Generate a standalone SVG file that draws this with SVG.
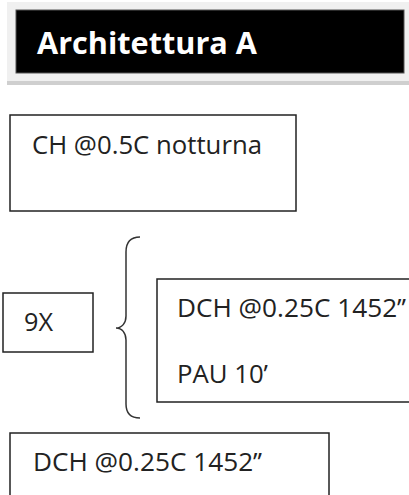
<svg xmlns="http://www.w3.org/2000/svg" width="409" height="495" viewBox="0 0 409 495">
<style>
.box{fill:#fff;stroke:#222;stroke-width:1.5}
.t{font-family:"Open Sans","Liberation Sans",sans-serif;font-size:25px;fill:#222;lengthAdjust:spacingAndGlyphs}
.title{font-family:"Open Sans","Liberation Sans",sans-serif;font-size:30px;font-weight:bold;fill:#fff}
</style>
<rect x="0" y="0" width="409" height="495" fill="#fff"/>
<g id="header">
<rect x="7" y="2" width="402" height="80" fill="#f0f0f0"/>
<rect x="7" y="81" width="402" height="4" fill="#cfcfcf"/>
<rect x="16" y="10" width="388" height="63" fill="#000" stroke="#555" stroke-width="1"/>
<text class="title" x="37" y="54" textLength="220" lengthAdjust="spacingAndGlyphs">Architettura A</text>
</g>
<g id="ch">
<rect class="box" x="10" y="115" width="286" height="96"/>
<text class="t" x="32" y="154" textLength="230" lengthAdjust="spacingAndGlyphs">CH @0.5C notturna</text>
</g>
<g id="rep">
<rect class="box" x="3" y="293" width="90" height="59"/>
<text class="t" x="24" y="331" textLength="29" lengthAdjust="spacingAndGlyphs">9X</text>
</g>
<g id="connectors">
<path d="M140,237 C130,237 126,243 126,252 L126,316 C126,323 122,328 116,328 C122,328 126,333 126,340 L126,404 C126,413 130,418 140,418" fill="none" stroke="#333" stroke-width="1.5"/>
</g>
<g id="cycle">
<rect class="box" x="157" y="279" width="270" height="123"/>
<text class="t" x="177" y="317" textLength="229" lengthAdjust="spacingAndGlyphs">DCH @0.25C 1452’’</text>
<text class="t" x="177" y="383" textLength="91" lengthAdjust="spacingAndGlyphs">PAU 10’</text>
</g>
<g id="dch">
<rect class="box" x="10" y="433" width="319" height="80"/>
<text class="t" x="33" y="471" textLength="229" lengthAdjust="spacingAndGlyphs">DCH @0.25C 1452’’</text>
</g>
</svg>
